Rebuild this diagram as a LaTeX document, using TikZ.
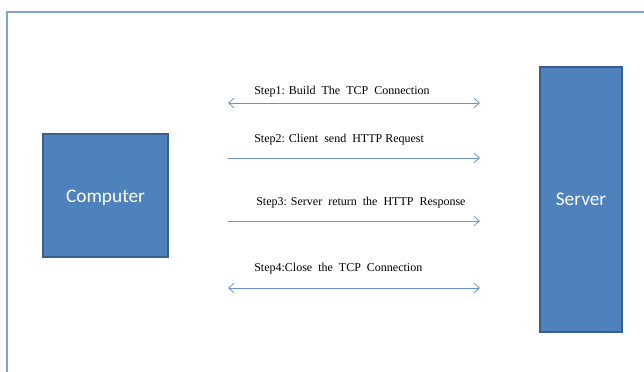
\documentclass[tikz,border=0pt]{standalone}
\usepackage{fontspec}
\setmainfont{Liberation Serif}
\newfontfamily\boxfont{Carlito}
\usetikzlibrary{arrows.meta}
\definecolor{boxfill}{HTML}{4F81BD}
\definecolor{boxline}{HTML}{3A5F8C}
\definecolor{arrowc}{HTML}{6A93CC}
\definecolor{framec}{HTML}{7EA2D6}
\begin{document}
\begin{tikzpicture}[x=0.75pt,y=-0.75pt,
  blockbox/.style={draw=boxline,line width=1.2pt,fill=boxfill,text=white,font=\boxfont\fontsize{14.5}{17}\selectfont},
  msg/.style={draw=arrowc,line width=0.6pt},
  steplabel/.style={font=\fontsize{9}{11}\selectfont,anchor=west,inner sep=0pt}]
\useasboundingbox (0,0) rectangle (644,372);
\draw[framec,line width=0.8pt] (7,372) -- (7,12) -- (644,12);
\node[blockbox,minimum width=125*0.75pt,minimum height=123*0.75pt,text height=12.5pt,text depth=2pt] (comp) at (105.5,195.5) {Computer};
\node[blockbox,minimum width=82*0.75pt,minimum height=265*0.75pt] (serv) at (581,199.5) {Server};
\coordinate (a1l) at (228,103); \coordinate (a1r) at (480,103);
\coordinate (a2l) at (228,158); \coordinate (a2r) at (480,158);
\coordinate (a3l) at (228,221); \coordinate (a3r) at (480,221);
\coordinate (a4l) at (228,288); \coordinate (a4r) at (480,288);
\draw[msg,{Straight Barb[length=4pt,width=7pt]}-{Straight Barb[length=4pt,width=7pt]}] (a1l) -- (a1r);
\draw[msg,-{Straight Barb[length=4pt,width=7pt]}] (a2l) -- (a2r);
\draw[msg,-{Straight Barb[length=4pt,width=7pt]}] (a3l) -- (a3r);
\draw[msg,{Straight Barb[length=4pt,width=7pt]}-{Straight Barb[length=4pt,width=7pt]}] (a4l) -- (a4r);
\node[steplabel] (t1) at (254,92) {Step1: Build\ \ The\ \ TCP\ \ Connection};
\node[steplabel] (t2) at (254,140) {Step2: Client\ \ send\ \ HTTP Request};
\node[steplabel] (t3) at (256,203) {Step3: Server\ \ return\ \ the\ \ HTTP\ \ Response};
\node[steplabel] (t4) at (254,269) {Step4:Close\ \ the\ \ TCP\ \ Connection};
\end{tikzpicture}
\end{document}
